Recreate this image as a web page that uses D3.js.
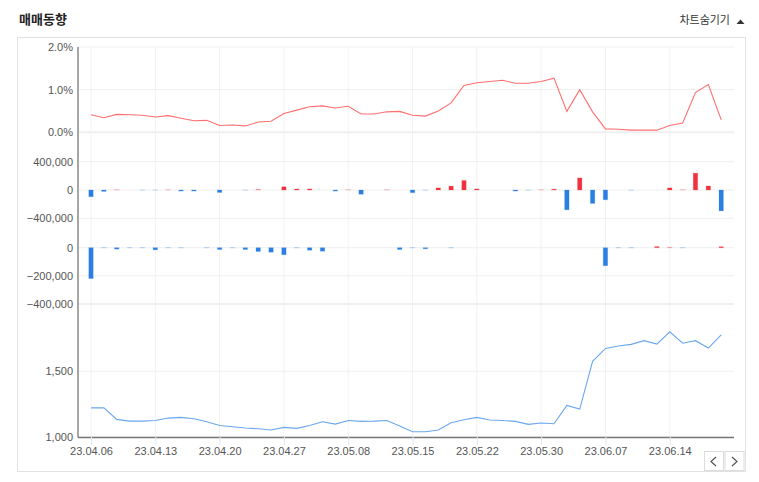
<!DOCTYPE html>
<html><head><meta charset="utf-8">
<script src="https://cdn.jsdelivr.net/npm/d3@7"></script>
<style>
html,body{margin:0;padding:0;background:#fff;}
svg{display:block;font-family:"Liberation Sans",Arial,sans-serif;}
</style></head>
<body><svg id="c" width="759" height="482"></svg>
<script>
// ---- data ----
const dates = ["23.04.06","23.04.07","23.04.10","23.04.11","23.04.12","23.04.13","23.04.14","23.04.17","23.04.18","23.04.19",
"23.04.20","23.04.21","23.04.24","23.04.25","23.04.26","23.04.27","23.04.28","23.05.02","23.05.03","23.05.04",
"23.05.08","23.05.09","23.05.10","23.05.11","23.05.12","23.05.15","23.05.16","23.05.17","23.05.18","23.05.19",
"23.05.22","23.05.23","23.05.24","23.05.25","23.05.26","23.05.30","23.05.31","23.06.01","23.06.02","23.06.05",
"23.06.07","23.06.08","23.06.09","23.06.12","23.06.13","23.06.14","23.06.15","23.06.16","23.06.19","23.06.20"];
const rateValues = [0.41,0.34,0.42,0.41,0.40,0.36,0.39,0.33,0.27,0.28,
0.16,0.17,0.15,0.24,0.26,0.44,0.52,0.60,0.62,0.57,
0.61,0.43,0.43,0.48,0.49,0.40,0.38,0.50,0.69,1.10,
1.16,1.19,1.22,1.15,1.15,1.19,1.27,0.49,1.00,0.48,
0.08,0.07,0.05,0.05,0.05,0.16,0.22,0.93,1.12,0.29];
const tradeA = [-95000,-20000,2000,0,-1000,-1000,2000,-15000,-15000,0,
-35000,0,-1000,6000,0,45000,15000,15000,0,-15000,
2000,-60000,0,2000,0,-38000,-1000,30000,55000,135000,
15000,0,0,-15000,-1000,2000,12000,-280000,170000,-190000,
-138000,0,-1000,0,0,30000,2000,238000,57000,-295000];
const tradeB = [-219000,-1000,-10000,-1000,-1000,-15000,-1000,-1000,0,-1000,
-13000,-1000,-13000,-27000,-32000,-50000,-1000,-18000,-25000,0,
0,0,0,0,-13000,-1000,-8000,0,-1000,0,
0,0,0,0,0,0,0,0,0,0,
-128000,-1000,-1000,0,8000,2000,-1000,0,0,7000];
const priceValues = [1222,1222,1134,1121,1121,1126,1144,1149,1139,1116,
1088,1078,1068,1063,1053,1073,1066,1088,1116,1098,
1126,1119,1121,1126,1083,1040,1040,1053,1108,1131,
1149,1129,1126,1119,1096,1106,1101,1240,1212,1576,
1674,1692,1705,1733,1707,1801,1714,1733,1677,1778];
const rateTicks = [0,1,2];
const tradeATicks = [-400000,0,400000];
const tradeBTicks = [-400000,-200000,0];
const priceTicks = [1000,1500];
const xTickLabels = dates.filter((d,i)=>i%5===0);

// ---- layout ----
const L = 78, R = 734;
const svg = d3.select("#c");
const x = d3.scalePoint().domain(dates).range([91, 721.2]);

const yRate = d3.scaleLinear().domain([0,2]).range([132.3,47]);
const yA = d3.scaleLinear().domain([-400000,400000]).range([218.3,161.7]);
const yB = d3.scaleLinear().domain([-400000,0]).range([304,247.7]);
const yP = d3.scaleLinear().domain([1000,1500]).range([437,371.3]);

// outer box
svg.append("rect").attr("x",17.5).attr("y",37.5).attr("width",728).attr("height",434)
  .attr("fill","none").attr("stroke","#e2e2e2");

// title
svg.append("text").attr("x",19).attr("y",24).text("매매동향")
  .attr("font-family","'Noto Sans CJK KR',sans-serif").attr("font-size",13).attr("font-weight",600).attr("fill","#222");
svg.append("text").attr("x",730).attr("y",24).attr("text-anchor","end").text("차트숨기기")
  .attr("font-family","'Noto Sans CJK KR',sans-serif").attr("font-size",11).attr("fill","#333");
svg.append("path").attr("d","M736.5,24 L744.5,24 L740.5,19.5 Z").attr("fill","#333");

// vertical grid + ticks
const g = svg.append("g");
xTickLabels.forEach(d=>{
  g.append("line").attr("x1",x(d)).attr("x2",x(d)).attr("y1",47).attr("y2",437)
   .attr("stroke","#f2f2f2");
});

// horizontal grids
function hgrid(scale, ticks, strong){
  ticks.forEach(t=>{
    g.append("line").attr("x1",L).attr("x2",R).attr("y1",scale(t)).attr("y2",scale(t))
     .attr("stroke", "#efefef").attr("stroke-width", strong && strong.includes(t) ? 2 : 1);
  });
}
hgrid(yRate, rateTicks, [0]);
hgrid(yA, tradeATicks, []);
hgrid(yB, tradeBTicks, [-400000]);
hgrid(yP, priceTicks, []);

// y axes
function yAxis(scale, ticks, fmt){
  const a = svg.append("g").attr("transform",`translate(${L-2},0)`)
    .call(d3.axisLeft(scale).tickValues(ticks).tickSize(0).tickPadding(3).tickFormat(fmt));
  a.select(".domain").remove();
  a.selectAll("text").attr("font-size",11).attr("fill","#555").attr("font-family","'Liberation Sans',Arial,sans-serif");
}
yAxis(yRate, rateTicks, d=>d3.format(".1f")(d)+"%");
yAxis(yA, tradeATicks, d3.format(","));
yAxis(yB, tradeBTicks, d3.format(","));
yAxis(yP, priceTicks, d3.format(","));

// bars
const bw = 4.4;
const RED = "#f0323f", BLUE = "#2a7fe2";
function bars(data, scale){
  svg.append("g").selectAll("rect").data(data).join("rect")
    .attr("x",(d,i)=>x(dates[i])-bw/2)
    .attr("y",d=>d>=0?scale(d):scale(0))
    .attr("width",bw)
    .attr("height",d=>Math.abs(scale(d)-scale(0)))
    .attr("fill",d=>d>=0?RED:BLUE)
    .attr("stroke",d=>d>=0?"rgba(240,50,63,0.2)":"rgba(42,127,226,0.2)")
    .attr("stroke-width",1)
    .attr("display",d=>d===0?"none":null);
}
bars(tradeA, yA);
bars(tradeB, yB);

// lines
svg.append("path").datum(rateValues)
  .attr("d", d3.line().x((d,i)=>x(dates[i])).y(d=>yRate(d)))
  .attr("fill","none").attr("stroke","#ff6f6f").attr("stroke-width",1.1);
svg.append("path").datum(priceValues)
  .attr("d", d3.line().x((d,i)=>x(dates[i])).y(d=>yP(d)))
  .attr("fill","none").attr("stroke","#6aa7ee").attr("stroke-width",1.1);

// axis lines
svg.append("line").attr("x1",L).attr("x2",L).attr("y1",47).attr("y2",437.5).attr("stroke","#777").attr("stroke-width",1.3);

// x axis
const xa = svg.append("g").attr("transform","translate(0,437)")
  .call(d3.axisBottom(x).tickValues(xTickLabels).tickSize(8).tickPadding(2));
xa.select(".domain").attr("d",`M${L},0.5H${R}`).attr("stroke","#777").attr("stroke-width",1.3);
xa.selectAll(".tick line").attr("stroke","#dde6f3");
xa.selectAll("text").attr("font-size",11).attr("fill","#555").attr("font-family","'Liberation Sans',Arial,sans-serif");

// nav buttons
[[704.5,"M716,457 L711,461.5 L716,466"],[725,"M732,457 L737,461.5 L732,466"]].forEach(([bx,p])=>{
  svg.append("rect").attr("x",bx).attr("y",451.5).attr("width",19).attr("height",19)
    .attr("fill","#fff").attr("stroke","#dcdcdc");
  svg.append("path").attr("d",p).attr("fill","none").attr("stroke","#555").attr("stroke-width",1.2);
});
</script></body></html>
